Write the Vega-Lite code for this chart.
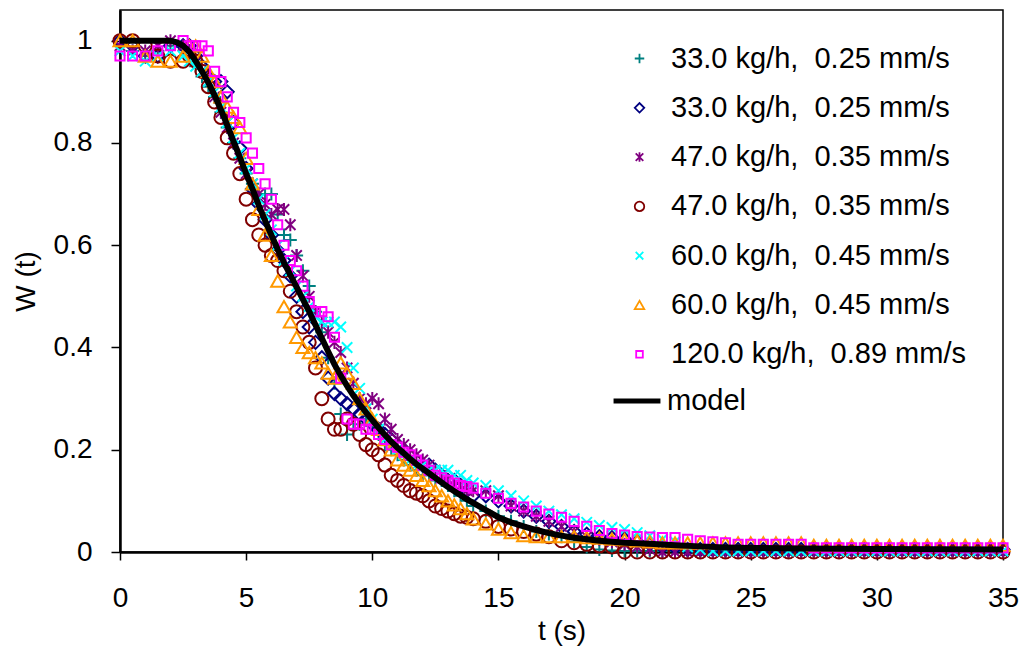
{
"$schema": "https://vega.github.io/schema/vega-lite/v6.json",
"width": 883,
"height": 542,
"autosize": {"type": "none"},
"padding": {"left": 120, "top": 10, "right": 16, "bottom": 98},
"background": "white",
"config": {
  "font": "Liberation Sans",
  "view": {"stroke": "black", "strokeWidth": 1.5},
  "axis": {"grid": false, "domainColor": "black", "domainWidth": 2.5, "tickColor": "black", "tickWidth": 1.5, "labelColor": "black", "titleColor": "black", "labelFontSize": 28, "titleFontSize": 28, "titleFontWeight": "normal", "labelFont": "Liberation Sans", "titleFont": "Liberation Sans", "labelFlush": false, "labelOverlap": false}
},
"data": {"values": [
{"s":"a","t":0,"w":0.99},{"s":"a","t":0.5,"w":0.98},{"s":"a","t":1,"w":0.97},{"s":"a","t":1.5,"w":0.98},{"s":"a","t":2,"w":0.99},{"s":"a","t":2.5,"w":0.99},
{"s":"a","t":2.75,"w":0.97},{"s":"a","t":3,"w":0.95},{"s":"a","t":3.25,"w":0.93},{"s":"a","t":3.5,"w":0.91},{"s":"a","t":3.75,"w":0.89},{"s":"a","t":4,"w":0.86},{"s":"a","t":4.25,"w":0.83},{"s":"a","t":4.5,"w":0.8},{"s":"a","t":4.75,"w":0.77},{"s":"a","t":5,"w":0.74},{"s":"a","t":5.25,"w":0.72},{"s":"a","t":5.5,"w":0.7},{"s":"a","t":5.75,"w":0.7},{"s":"a","t":6,"w":0.7},{"s":"a","t":6.25,"w":0.66},{"s":"a","t":6.5,"w":0.62},{"s":"a","t":6.75,"w":0.61},{"s":"a","t":7,"w":0.58},{"s":"a","t":7.25,"w":0.55},{"s":"a","t":7.5,"w":0.52},{"s":"a","t":7.75,"w":0.47},{"s":"a","t":8,"w":0.43},{"s":"a","t":8.25,"w":0.38},{"s":"a","t":8.5,"w":0.33},{"s":"a","t":8.75,"w":0.27},{"s":"a","t":9,"w":0.23},{"s":"a","t":9.25,"w":0.24},{"s":"a","t":9.5,"w":0.25},{"s":"a","t":9.75,"w":0.26},{"s":"a","t":10,"w":0.25},{"s":"a","t":10.25,"w":0.23},{"s":"a","t":10.5,"w":0.21},{"s":"a","t":10.75,"w":0.2},{"s":"a","t":11,"w":0.19},{"s":"a","t":11.25,"w":0.18},{"s":"a","t":11.5,"w":0.17},{"s":"a","t":11.75,"w":0.16},{"s":"a","t":12,"w":0.15},{"s":"a","t":12.25,"w":0.15},{"s":"a","t":12.5,"w":0.14},{"s":"a","t":12.75,"w":0.14},{"s":"a","t":13,"w":0.13},{"s":"a","t":13.25,"w":0.12},{"s":"a","t":13.5,"w":0.11},{"s":"a","t":13.75,"w":0.1},{"s":"a","t":14,"w":0.09},
{"s":"a","t":14.5,"w":0.08},{"s":"a","t":15,"w":0.07},{"s":"a","t":15.5,"w":0.06},{"s":"a","t":16,"w":0.05},{"s":"a","t":16.5,"w":0.04},{"s":"a","t":17,"w":0.035},{"s":"a","t":17.5,"w":0.03},{"s":"a","t":18,"w":0.02},{"s":"a","t":18.5,"w":0.01},{"s":"a","t":19,"w":0.005},{"s":"a","t":19.5,"w":0.003},{"s":"a","t":20,"w":0.002},{"s":"a","t":20.5,"w":0.002},{"s":"a","t":21,"w":0.002},{"s":"a","t":21.5,"w":0.002},{"s":"a","t":22,"w":0.002},{"s":"a","t":22.5,"w":0.002},{"s":"a","t":23,"w":0.002},{"s":"a","t":23.5,"w":0.002},{"s":"a","t":24,"w":0.002},{"s":"a","t":24.5,"w":0.002},{"s":"a","t":25,"w":0.002},{"s":"a","t":25.5,"w":0.002},{"s":"a","t":26,"w":0.002},{"s":"a","t":26.5,"w":0.002},{"s":"a","t":27,"w":0.002},{"s":"a","t":27.5,"w":0.002},{"s":"a","t":28,"w":0.002},{"s":"a","t":28.5,"w":0.002},{"s":"a","t":29,"w":0.002},{"s":"a","t":29.5,"w":0.002},{"s":"a","t":30,"w":0.002},{"s":"a","t":30.5,"w":0.002},{"s":"a","t":31,"w":0.002},{"s":"a","t":31.5,"w":0.002},{"s":"a","t":32,"w":0.002},{"s":"a","t":32.5,"w":0.002},{"s":"a","t":33,"w":0.002},{"s":"a","t":33.5,"w":0.002},{"s":"a","t":34,"w":0.002},{"s":"a","t":34.5,"w":0.002},{"s":"a","t":35,"w":0.002},

{"s":"b","t":0,"w":1.0},{"s":"b","t":0.5,"w":0.99},{"s":"b","t":1,"w":0.97},{"s":"b","t":1.5,"w":0.97},{"s":"b","t":2,"w":0.99},{"s":"b","t":2.5,"w":0.99},
{"s":"b","t":2.75,"w":0.99},{"s":"b","t":3,"w":0.97},{"s":"b","t":3.25,"w":0.95},{"s":"b","t":3.5,"w":0.93},{"s":"b","t":3.75,"w":0.92},{"s":"b","t":4,"w":0.92},{"s":"b","t":4.25,"w":0.9},{"s":"b","t":4.5,"w":0.84},{"s":"b","t":4.75,"w":0.79},{"s":"b","t":5,"w":0.75},{"s":"b","t":5.25,"w":0.71},{"s":"b","t":5.5,"w":0.68},{"s":"b","t":5.75,"w":0.65},{"s":"b","t":6,"w":0.62},{"s":"b","t":6.25,"w":0.59},{"s":"b","t":6.5,"w":0.57},{"s":"b","t":6.75,"w":0.54},{"s":"b","t":7,"w":0.5},{"s":"b","t":7.25,"w":0.47},{"s":"b","t":7.5,"w":0.44},{"s":"b","t":7.75,"w":0.41},{"s":"b","t":8,"w":0.38},{"s":"b","t":8.25,"w":0.34},{"s":"b","t":8.5,"w":0.31},{"s":"b","t":8.75,"w":0.3},{"s":"b","t":9,"w":0.29},{"s":"b","t":9.25,"w":0.28},{"s":"b","t":9.5,"w":0.27},{"s":"b","t":9.75,"w":0.26},{"s":"b","t":10,"w":0.25},{"s":"b","t":10.25,"w":0.24},{"s":"b","t":10.5,"w":0.23},{"s":"b","t":10.75,"w":0.22},{"s":"b","t":11,"w":0.21},{"s":"b","t":11.25,"w":0.2},{"s":"b","t":11.5,"w":0.19},{"s":"b","t":11.75,"w":0.18},{"s":"b","t":12,"w":0.17},{"s":"b","t":12.25,"w":0.17},{"s":"b","t":12.5,"w":0.16},{"s":"b","t":12.75,"w":0.15},{"s":"b","t":13,"w":0.14},{"s":"b","t":13.25,"w":0.14},{"s":"b","t":13.5,"w":0.13},{"s":"b","t":13.75,"w":0.12},{"s":"b","t":14,"w":0.11},
{"s":"b","t":14.5,"w":0.11},{"s":"b","t":15,"w":0.1},{"s":"b","t":15.5,"w":0.09},{"s":"b","t":16,"w":0.08},{"s":"b","t":16.5,"w":0.07},{"s":"b","t":17,"w":0.06},{"s":"b","t":17.5,"w":0.05},{"s":"b","t":18,"w":0.04},{"s":"b","t":18.5,"w":0.035},{"s":"b","t":19,"w":0.03},{"s":"b","t":19.5,"w":0.028},{"s":"b","t":20,"w":0.025},{"s":"b","t":20.5,"w":0.02},{"s":"b","t":21,"w":0.015},{"s":"b","t":21.5,"w":0.01},{"s":"b","t":22,"w":0.008},{"s":"b","t":22.5,"w":0.005},{"s":"b","t":23,"w":0.005},{"s":"b","t":23.5,"w":0.005},{"s":"b","t":24,"w":0.005},{"s":"b","t":24.5,"w":0.005},{"s":"b","t":25,"w":0.005},{"s":"b","t":25.5,"w":0.005},{"s":"b","t":26,"w":0.005},{"s":"b","t":26.5,"w":0.005},{"s":"b","t":27,"w":0.005},{"s":"b","t":27.5,"w":0.005},{"s":"b","t":28,"w":0.005},{"s":"b","t":28.5,"w":0.005},{"s":"b","t":29,"w":0.005},{"s":"b","t":29.5,"w":0.005},{"s":"b","t":30,"w":0.005},{"s":"b","t":30.5,"w":0.005},{"s":"b","t":31,"w":0.005},{"s":"b","t":31.5,"w":0.005},{"s":"b","t":32,"w":0.005},{"s":"b","t":32.5,"w":0.005},{"s":"b","t":33,"w":0.005},{"s":"b","t":33.5,"w":0.005},{"s":"b","t":34,"w":0.005},{"s":"b","t":34.5,"w":0.005},{"s":"b","t":35,"w":0.005},

{"s":"c","t":0,"w":0.99},{"s":"c","t":0.5,"w":0.98},{"s":"c","t":1,"w":0.98},{"s":"c","t":1.5,"w":0.99},{"s":"c","t":2,"w":1.0},{"s":"c","t":2.5,"w":0.99},
{"s":"c","t":2.75,"w":0.98},{"s":"c","t":3,"w":0.96},{"s":"c","t":3.25,"w":0.94},{"s":"c","t":3.5,"w":0.92},{"s":"c","t":3.75,"w":0.89},{"s":"c","t":4,"w":0.86},{"s":"c","t":4.25,"w":0.83},{"s":"c","t":4.5,"w":0.8},{"s":"c","t":4.75,"w":0.77},{"s":"c","t":5,"w":0.74},{"s":"c","t":5.25,"w":0.72},{"s":"c","t":5.5,"w":0.7},{"s":"c","t":5.75,"w":0.68},{"s":"c","t":6,"w":0.66},{"s":"c","t":6.25,"w":0.67},{"s":"c","t":6.5,"w":0.67},{"s":"c","t":6.75,"w":0.64},{"s":"c","t":7,"w":0.58},{"s":"c","t":7.25,"w":0.54},{"s":"c","t":7.5,"w":0.5},{"s":"c","t":7.75,"w":0.47},{"s":"c","t":8,"w":0.45},{"s":"c","t":8.25,"w":0.43},{"s":"c","t":8.5,"w":0.41},{"s":"c","t":8.75,"w":0.39},{"s":"c","t":9,"w":0.36},{"s":"c","t":9.25,"w":0.33},{"s":"c","t":9.5,"w":0.3},{"s":"c","t":9.75,"w":0.29},{"s":"c","t":10,"w":0.3},{"s":"c","t":10.25,"w":0.29},{"s":"c","t":10.5,"w":0.26},{"s":"c","t":10.75,"w":0.24},{"s":"c","t":11,"w":0.22},{"s":"c","t":11.25,"w":0.21},{"s":"c","t":11.5,"w":0.2},{"s":"c","t":11.75,"w":0.19},{"s":"c","t":12,"w":0.18},{"s":"c","t":12.25,"w":0.17},{"s":"c","t":12.5,"w":0.16},{"s":"c","t":12.75,"w":0.15},{"s":"c","t":13,"w":0.14},{"s":"c","t":13.25,"w":0.13},{"s":"c","t":13.5,"w":0.13},{"s":"c","t":13.75,"w":0.12},{"s":"c","t":14,"w":0.12},
{"s":"c","t":14.5,"w":0.12},{"s":"c","t":15,"w":0.11},{"s":"c","t":15.5,"w":0.09},{"s":"c","t":16,"w":0.08},{"s":"c","t":16.5,"w":0.07},{"s":"c","t":17,"w":0.06},{"s":"c","t":17.5,"w":0.05},{"s":"c","t":18,"w":0.04},{"s":"c","t":18.5,"w":0.03},{"s":"c","t":19,"w":0.025},{"s":"c","t":19.5,"w":0.02},{"s":"c","t":20,"w":0.015},{"s":"c","t":20.5,"w":0.01},{"s":"c","t":21,"w":0.005},{"s":"c","t":21.5,"w":0.0},{"s":"c","t":22,"w":0.0},{"s":"c","t":22.5,"w":0.0},{"s":"c","t":23,"w":0.0},{"s":"c","t":23.5,"w":0.0},{"s":"c","t":24,"w":0.0},{"s":"c","t":24.5,"w":0.0},{"s":"c","t":25,"w":0.0},{"s":"c","t":25.5,"w":0.0},{"s":"c","t":26,"w":0.0},{"s":"c","t":26.5,"w":0.0},{"s":"c","t":27,"w":0.0},{"s":"c","t":27.5,"w":0.0},{"s":"c","t":28,"w":0.0},{"s":"c","t":28.5,"w":0.0},{"s":"c","t":29,"w":0.0},{"s":"c","t":29.5,"w":0.0},{"s":"c","t":30,"w":0.0},{"s":"c","t":30.5,"w":0.0},{"s":"c","t":31,"w":0.0},{"s":"c","t":31.5,"w":0.0},{"s":"c","t":32,"w":0.0},{"s":"c","t":32.5,"w":0.0},{"s":"c","t":33,"w":0.0},{"s":"c","t":33.5,"w":0.0},{"s":"c","t":34,"w":0.0},{"s":"c","t":34.5,"w":0.0},{"s":"c","t":35,"w":0.0},

{"s":"d","t":0,"w":1.0},{"s":"d","t":0.5,"w":1.0},{"s":"d","t":1,"w":0.99},{"s":"d","t":1.5,"w":0.97},{"s":"d","t":2,"w":0.96},{"s":"d","t":2.5,"w":0.96},
{"s":"d","t":2.75,"w":0.97},{"s":"d","t":3,"w":0.96},{"s":"d","t":3.25,"w":0.94},{"s":"d","t":3.5,"w":0.91},{"s":"d","t":3.75,"w":0.88},{"s":"d","t":4,"w":0.85},{"s":"d","t":4.25,"w":0.81},{"s":"d","t":4.5,"w":0.78},{"s":"d","t":4.75,"w":0.74},{"s":"d","t":5,"w":0.69},{"s":"d","t":5.25,"w":0.65},{"s":"d","t":5.5,"w":0.62},{"s":"d","t":5.75,"w":0.6},{"s":"d","t":6,"w":0.58},{"s":"d","t":6.25,"w":0.57},{"s":"d","t":6.5,"w":0.55},{"s":"d","t":6.75,"w":0.51},{"s":"d","t":7,"w":0.47},{"s":"d","t":7.25,"w":0.44},{"s":"d","t":7.5,"w":0.41},{"s":"d","t":7.75,"w":0.36},{"s":"d","t":8,"w":0.3},{"s":"d","t":8.25,"w":0.26},{"s":"d","t":8.5,"w":0.24},{"s":"d","t":8.75,"w":0.24},{"s":"d","t":9,"w":0.26},{"s":"d","t":9.25,"w":0.25},{"s":"d","t":9.5,"w":0.23},{"s":"d","t":9.75,"w":0.21},{"s":"d","t":10,"w":0.2},{"s":"d","t":10.25,"w":0.19},{"s":"d","t":10.5,"w":0.17},{"s":"d","t":10.75,"w":0.15},{"s":"d","t":11,"w":0.14},{"s":"d","t":11.25,"w":0.13},{"s":"d","t":11.5,"w":0.12},{"s":"d","t":11.75,"w":0.115},{"s":"d","t":12,"w":0.11},{"s":"d","t":12.25,"w":0.1},{"s":"d","t":12.5,"w":0.09},{"s":"d","t":12.75,"w":0.085},{"s":"d","t":13,"w":0.08},{"s":"d","t":13.25,"w":0.075},{"s":"d","t":13.5,"w":0.07},{"s":"d","t":13.75,"w":0.068},{"s":"d","t":14,"w":0.065},
{"s":"d","t":14.5,"w":0.06},{"s":"d","t":15,"w":0.05},{"s":"d","t":15.5,"w":0.045},{"s":"d","t":16,"w":0.04},{"s":"d","t":16.5,"w":0.035},{"s":"d","t":17,"w":0.03},{"s":"d","t":17.5,"w":0.022},{"s":"d","t":18,"w":0.018},{"s":"d","t":18.5,"w":0.015},{"s":"d","t":19,"w":0.012},{"s":"d","t":19.5,"w":0.01},{"s":"d","t":20,"w":0.0},{"s":"d","t":20.5,"w":0.0},{"s":"d","t":21,"w":0.0},{"s":"d","t":21.5,"w":0.0},{"s":"d","t":22,"w":0.0},{"s":"d","t":22.5,"w":0.0},{"s":"d","t":23,"w":0.0},{"s":"d","t":23.5,"w":0.0},{"s":"d","t":24,"w":0.0},{"s":"d","t":24.5,"w":0.0},{"s":"d","t":25,"w":0.0},{"s":"d","t":25.5,"w":0.0},{"s":"d","t":26,"w":0.0},{"s":"d","t":26.5,"w":0.0},{"s":"d","t":27,"w":0.0},{"s":"d","t":27.5,"w":0.0},{"s":"d","t":28,"w":0.0},{"s":"d","t":28.5,"w":0.0},{"s":"d","t":29,"w":0.0},{"s":"d","t":29.5,"w":0.0},{"s":"d","t":30,"w":0.0},{"s":"d","t":30.5,"w":0.0},{"s":"d","t":31,"w":0.0},{"s":"d","t":31.5,"w":0.0},{"s":"d","t":32,"w":0.0},{"s":"d","t":32.5,"w":0.0},{"s":"d","t":33,"w":0.0},{"s":"d","t":33.5,"w":0.0},{"s":"d","t":34,"w":0.0},{"s":"d","t":34.5,"w":0.0},{"s":"d","t":35,"w":0.0},

{"s":"e","t":0,"w":0.98},{"s":"e","t":0.5,"w":0.97},{"s":"e","t":1,"w":0.96},{"s":"e","t":1.5,"w":0.97},{"s":"e","t":2,"w":0.98},{"s":"e","t":2.5,"w":0.97},
{"s":"e","t":2.75,"w":0.96},{"s":"e","t":3,"w":0.95},{"s":"e","t":3.25,"w":0.94},{"s":"e","t":3.5,"w":0.92},{"s":"e","t":3.75,"w":0.9},{"s":"e","t":4,"w":0.87},{"s":"e","t":4.25,"w":0.84},{"s":"e","t":4.5,"w":0.81},{"s":"e","t":4.75,"w":0.78},{"s":"e","t":5,"w":0.75},{"s":"e","t":5.25,"w":0.72},{"s":"e","t":5.5,"w":0.69},{"s":"e","t":5.75,"w":0.66},{"s":"e","t":6,"w":0.63},{"s":"e","t":6.25,"w":0.6},{"s":"e","t":6.5,"w":0.57},{"s":"e","t":6.75,"w":0.55},{"s":"e","t":7,"w":0.52},{"s":"e","t":7.25,"w":0.5},{"s":"e","t":7.5,"w":0.48},{"s":"e","t":7.75,"w":0.46},{"s":"e","t":8,"w":0.45},{"s":"e","t":8.25,"w":0.45},{"s":"e","t":8.5,"w":0.45},{"s":"e","t":8.75,"w":0.44},{"s":"e","t":9,"w":0.4},{"s":"e","t":9.25,"w":0.36},{"s":"e","t":9.5,"w":0.32},{"s":"e","t":9.75,"w":0.28},{"s":"e","t":10,"w":0.26},{"s":"e","t":10.25,"w":0.24},{"s":"e","t":10.5,"w":0.22},{"s":"e","t":10.75,"w":0.21},{"s":"e","t":11,"w":0.2},{"s":"e","t":11.25,"w":0.19},{"s":"e","t":11.5,"w":0.18},{"s":"e","t":11.75,"w":0.17},{"s":"e","t":12,"w":0.17},{"s":"e","t":12.25,"w":0.16},{"s":"e","t":12.5,"w":0.16},{"s":"e","t":12.75,"w":0.16},{"s":"e","t":13,"w":0.16},{"s":"e","t":13.25,"w":0.15},{"s":"e","t":13.5,"w":0.15},{"s":"e","t":13.75,"w":0.14},{"s":"e","t":14,"w":0.135},
{"s":"e","t":14.5,"w":0.13},{"s":"e","t":15,"w":0.12},{"s":"e","t":15.5,"w":0.11},{"s":"e","t":16,"w":0.1},{"s":"e","t":16.5,"w":0.09},{"s":"e","t":17,"w":0.08},{"s":"e","t":17.5,"w":0.073},{"s":"e","t":18,"w":0.065},{"s":"e","t":18.5,"w":0.058},{"s":"e","t":19,"w":0.052},{"s":"e","t":19.5,"w":0.048},{"s":"e","t":20,"w":0.044},{"s":"e","t":20.5,"w":0.038},{"s":"e","t":21,"w":0.032},{"s":"e","t":21.5,"w":0.025},{"s":"e","t":22,"w":0.02},{"s":"e","t":22.5,"w":0.01},{"s":"e","t":23,"w":0.005},{"s":"e","t":23.5,"w":0.002},{"s":"e","t":24,"w":0.002},{"s":"e","t":24.5,"w":0.002},{"s":"e","t":25,"w":0.002},{"s":"e","t":25.5,"w":0.002},{"s":"e","t":26,"w":0.002},{"s":"e","t":26.5,"w":0.002},{"s":"e","t":27,"w":0.002},{"s":"e","t":27.5,"w":0.002},{"s":"e","t":28,"w":0.002},{"s":"e","t":28.5,"w":0.002},{"s":"e","t":29,"w":0.002},{"s":"e","t":29.5,"w":0.002},{"s":"e","t":30,"w":0.002},{"s":"e","t":30.5,"w":0.002},{"s":"e","t":31,"w":0.002},{"s":"e","t":31.5,"w":0.002},{"s":"e","t":32,"w":0.002},{"s":"e","t":32.5,"w":0.002},{"s":"e","t":33,"w":0.002},{"s":"e","t":33.5,"w":0.002},{"s":"e","t":34,"w":0.002},{"s":"e","t":34.5,"w":0.002},{"s":"e","t":35,"w":0.002},

{"s":"f","t":0,"w":1.0},{"s":"f","t":0.5,"w":1.0},{"s":"f","t":1,"w":0.97},{"s":"f","t":1.5,"w":0.96},{"s":"f","t":2,"w":0.96},{"s":"f","t":2.5,"w":0.97},
{"s":"f","t":2.75,"w":0.99},{"s":"f","t":3,"w":0.99},{"s":"f","t":3.25,"w":0.97},{"s":"f","t":3.5,"w":0.94},{"s":"f","t":3.75,"w":0.92},{"s":"f","t":4,"w":0.89},{"s":"f","t":4.25,"w":0.87},{"s":"f","t":4.5,"w":0.85},{"s":"f","t":4.75,"w":0.83},{"s":"f","t":5,"w":0.77},{"s":"f","t":5.25,"w":0.72},{"s":"f","t":5.5,"w":0.67},{"s":"f","t":5.75,"w":0.62},{"s":"f","t":6,"w":0.58},{"s":"f","t":6.25,"w":0.53},{"s":"f","t":6.5,"w":0.48},{"s":"f","t":6.75,"w":0.45},{"s":"f","t":7,"w":0.42},{"s":"f","t":7.25,"w":0.4},{"s":"f","t":7.5,"w":0.39},{"s":"f","t":7.75,"w":0.38},{"s":"f","t":8,"w":0.37},{"s":"f","t":8.25,"w":0.35},{"s":"f","t":8.5,"w":0.34},{"s":"f","t":8.75,"w":0.37},{"s":"f","t":9,"w":0.35},{"s":"f","t":9.25,"w":0.33},{"s":"f","t":9.5,"w":0.3},{"s":"f","t":9.75,"w":0.28},{"s":"f","t":10,"w":0.26},{"s":"f","t":10.25,"w":0.24},{"s":"f","t":10.5,"w":0.22},{"s":"f","t":10.75,"w":0.2},{"s":"f","t":11,"w":0.18},{"s":"f","t":11.25,"w":0.17},{"s":"f","t":11.5,"w":0.16},{"s":"f","t":11.75,"w":0.15},{"s":"f","t":12,"w":0.14},{"s":"f","t":12.25,"w":0.13},{"s":"f","t":12.5,"w":0.12},{"s":"f","t":12.75,"w":0.11},{"s":"f","t":13,"w":0.1},{"s":"f","t":13.25,"w":0.092},{"s":"f","t":13.5,"w":0.085},{"s":"f","t":13.75,"w":0.075},{"s":"f","t":14,"w":0.065},
{"s":"f","t":14.5,"w":0.055},{"s":"f","t":15,"w":0.045},{"s":"f","t":15.5,"w":0.038},{"s":"f","t":16,"w":0.032},{"s":"f","t":16.5,"w":0.03},{"s":"f","t":17,"w":0.03},{"s":"f","t":17.5,"w":0.03},{"s":"f","t":18,"w":0.03},{"s":"f","t":18.5,"w":0.028},{"s":"f","t":19,"w":0.027},{"s":"f","t":19.5,"w":0.025},{"s":"f","t":20,"w":0.024},{"s":"f","t":20.5,"w":0.022},{"s":"f","t":21,"w":0.02},{"s":"f","t":21.5,"w":0.018},{"s":"f","t":22,"w":0.018},{"s":"f","t":22.5,"w":0.018},{"s":"f","t":23,"w":0.018},{"s":"f","t":23.5,"w":0.018},{"s":"f","t":24,"w":0.018},{"s":"f","t":24.5,"w":0.018},{"s":"f","t":25,"w":0.018},{"s":"f","t":25.5,"w":0.018},{"s":"f","t":26,"w":0.018},{"s":"f","t":26.5,"w":0.018},{"s":"f","t":27,"w":0.018},{"s":"f","t":27.5,"w":0.013},{"s":"f","t":28,"w":0.013},{"s":"f","t":28.5,"w":0.013},{"s":"f","t":29,"w":0.013},{"s":"f","t":29.5,"w":0.013},{"s":"f","t":30,"w":0.013},{"s":"f","t":30.5,"w":0.013},{"s":"f","t":31,"w":0.013},{"s":"f","t":31.5,"w":0.013},{"s":"f","t":32,"w":0.013},{"s":"f","t":32.5,"w":0.013},{"s":"f","t":33,"w":0.013},{"s":"f","t":33.5,"w":0.013},{"s":"f","t":34,"w":0.013},{"s":"f","t":34.5,"w":0.013},{"s":"f","t":35,"w":0.013},

{"s":"g","t":0,"w":0.97},{"s":"g","t":0.5,"w":0.97},{"s":"g","t":1,"w":0.97},{"s":"g","t":1.5,"w":0.98},{"s":"g","t":2,"w":0.99},{"s":"g","t":2.5,"w":1.0},
{"s":"g","t":2.75,"w":0.99},{"s":"g","t":3,"w":0.99},{"s":"g","t":3.25,"w":0.99},{"s":"g","t":3.5,"w":0.98},{"s":"g","t":3.75,"w":0.94},{"s":"g","t":4,"w":0.92},{"s":"g","t":4.25,"w":0.89},{"s":"g","t":4.5,"w":0.86},{"s":"g","t":4.75,"w":0.84},{"s":"g","t":5,"w":0.81},{"s":"g","t":5.25,"w":0.78},{"s":"g","t":5.5,"w":0.75},{"s":"g","t":5.75,"w":0.72},{"s":"g","t":6,"w":0.69},{"s":"g","t":6.25,"w":0.64},{"s":"g","t":6.5,"w":0.6},{"s":"g","t":6.75,"w":0.57},{"s":"g","t":7,"w":0.55},{"s":"g","t":7.25,"w":0.52},{"s":"g","t":7.5,"w":0.49},{"s":"g","t":7.75,"w":0.47},{"s":"g","t":8,"w":0.47},{"s":"g","t":8.25,"w":0.46},{"s":"g","t":8.5,"w":0.42},{"s":"g","t":8.75,"w":0.34},{"s":"g","t":9,"w":0.26},{"s":"g","t":9.25,"w":0.25},{"s":"g","t":9.5,"w":0.25},{"s":"g","t":9.75,"w":0.24},{"s":"g","t":10,"w":0.24},{"s":"g","t":10.25,"w":0.23},{"s":"g","t":10.5,"w":0.22},{"s":"g","t":10.75,"w":0.21},{"s":"g","t":11,"w":0.205},{"s":"g","t":11.25,"w":0.195},{"s":"g","t":11.5,"w":0.19},{"s":"g","t":11.75,"w":0.18},{"s":"g","t":12,"w":0.17},{"s":"g","t":12.25,"w":0.16},{"s":"g","t":12.5,"w":0.15},{"s":"g","t":12.75,"w":0.145},{"s":"g","t":13,"w":0.14},{"s":"g","t":13.25,"w":0.135},{"s":"g","t":13.5,"w":0.13},{"s":"g","t":13.75,"w":0.128},{"s":"g","t":14,"w":0.125},
{"s":"g","t":14.5,"w":0.115},{"s":"g","t":15,"w":0.105},{"s":"g","t":15.5,"w":0.095},{"s":"g","t":16,"w":0.088},{"s":"g","t":16.5,"w":0.08},{"s":"g","t":17,"w":0.074},{"s":"g","t":17.5,"w":0.068},{"s":"g","t":18,"w":0.06},{"s":"g","t":18.5,"w":0.05},{"s":"g","t":19,"w":0.042},{"s":"g","t":19.5,"w":0.036},{"s":"g","t":20,"w":0.033},{"s":"g","t":20.5,"w":0.03},{"s":"g","t":21,"w":0.029},{"s":"g","t":21.5,"w":0.028},{"s":"g","t":22,"w":0.028},{"s":"g","t":22.5,"w":0.025},{"s":"g","t":23,"w":0.022},{"s":"g","t":23.5,"w":0.02},{"s":"g","t":24,"w":0.018},{"s":"g","t":24.5,"w":0.015},{"s":"g","t":25,"w":0.015},{"s":"g","t":25.5,"w":0.015},{"s":"g","t":26,"w":0.015},{"s":"g","t":26.5,"w":0.015},{"s":"g","t":27,"w":0.015},{"s":"g","t":27.5,"w":0.008},{"s":"g","t":28,"w":0.008},{"s":"g","t":28.5,"w":0.008},{"s":"g","t":29,"w":0.008},{"s":"g","t":29.5,"w":0.008},{"s":"g","t":30,"w":0.008},{"s":"g","t":30.5,"w":0.008},{"s":"g","t":31,"w":0.008},{"s":"g","t":31.5,"w":0.008},{"s":"g","t":32,"w":0.008},{"s":"g","t":32.5,"w":0.008},{"s":"g","t":33,"w":0.008},{"s":"g","t":33.5,"w":0.008},{"s":"g","t":34,"w":0.008},{"s":"g","t":34.5,"w":0.008},{"s":"g","t":35,"w":0.008},

{"s":"m","t":0,"w":1.0},{"s":"m","t":1,"w":1.0},{"s":"m","t":2,"w":1.0},{"s":"m","t":2.25,"w":0.997},{"s":"m","t":2.5,"w":0.99},{"s":"m","t":2.75,"w":0.978},{"s":"m","t":3,"w":0.96},{"s":"m","t":3.25,"w":0.94},{"s":"m","t":3.5,"w":0.918},{"s":"m","t":3.75,"w":0.893},{"s":"m","t":4,"w":0.865},{"s":"m","t":4.25,"w":0.835},{"s":"m","t":4.5,"w":0.803},{"s":"m","t":4.75,"w":0.772},{"s":"m","t":5,"w":0.74},{"s":"m","t":5.25,"w":0.71},{"s":"m","t":5.5,"w":0.678},{"s":"m","t":5.75,"w":0.648},{"s":"m","t":6,"w":0.62},{"s":"m","t":6.25,"w":0.592},{"s":"m","t":6.5,"w":0.566},{"s":"m","t":6.75,"w":0.542},{"s":"m","t":7,"w":0.518},{"s":"m","t":7.25,"w":0.494},{"s":"m","t":7.5,"w":0.47},{"s":"m","t":7.75,"w":0.444},{"s":"m","t":8,"w":0.418},{"s":"m","t":8.25,"w":0.392},{"s":"m","t":8.5,"w":0.367},{"s":"m","t":8.75,"w":0.345},{"s":"m","t":9,"w":0.325},{"s":"m","t":9.25,"w":0.306},{"s":"m","t":9.5,"w":0.289},{"s":"m","t":9.75,"w":0.273},{"s":"m","t":10,"w":0.258},{"s":"m","t":10.25,"w":0.243},{"s":"m","t":10.5,"w":0.229},{"s":"m","t":10.75,"w":0.216},{"s":"m","t":11,"w":0.204},{"s":"m","t":11.25,"w":0.193},{"s":"m","t":11.5,"w":0.182},{"s":"m","t":11.75,"w":0.172},{"s":"m","t":12,"w":0.163},{"s":"m","t":12.25,"w":0.154},{"s":"m","t":12.5,"w":0.145},{"s":"m","t":12.75,"w":0.136},{"s":"m","t":13,"w":0.127},{"s":"m","t":13.25,"w":0.119},{"s":"m","t":13.5,"w":0.111},{"s":"m","t":13.75,"w":0.103},{"s":"m","t":14,"w":0.096},{"s":"m","t":14.5,"w":0.082},{"s":"m","t":15,"w":0.068},{"s":"m","t":15.5,"w":0.058},{"s":"m","t":16,"w":0.05},{"s":"m","t":16.5,"w":0.043},{"s":"m","t":17,"w":0.037},{"s":"m","t":17.5,"w":0.032},{"s":"m","t":18,"w":0.028},{"s":"m","t":18.5,"w":0.025},{"s":"m","t":19,"w":0.022},{"s":"m","t":19.5,"w":0.02},{"s":"m","t":20,"w":0.018},{"s":"m","t":21,"w":0.016},{"s":"m","t":22,"w":0.013},{"s":"m","t":23,"w":0.011},{"s":"m","t":24,"w":0.009},{"s":"m","t":25,"w":0.008},{"s":"m","t":27,"w":0.007},{"s":"m","t":30,"w":0.006},{"s":"m","t":35,"w":0.005}
]},
"resolve": {"scale": {"color": "independent", "shape": "independent"}, "legend": {"color": "independent", "shape": "independent"}},
"layer": [
  {
    "transform": [{"filter": "datum.s != 'm'"}],
    "mark": {"type": "point", "filled": false, "opacity": 1, "size": 170, "strokeWidth": 2},
    "encoding": {
      "x": {"field": "t", "type": "quantitative", "scale": {"domain": [0, 35], "nice": false, "zero": false},
            "axis": {"title": "t (s)", "values": [0, 5, 10, 15, 20, 25, 30, 35], "tickSize": 8, "labelPadding": 24, "titlePadding": 5}},
      "y": {"field": "w", "type": "quantitative", "scale": {"domain": [0, 1.06], "nice": false},
            "axis": {"title": "W (t)", "values": [0, 0.2, 0.4, 0.6, 0.8, 1], "format": "~g", "tickSize": 9, "labelPadding": 19, "titlePadding": 13}},
      "color": {"field": "s", "type": "nominal",
        "scale": {"domain": ["a", "b", "c", "d", "e", "f", "g"], "range": ["#008080", "#000080", "#800080", "#800000", "#00FFFF", "#FF9900", "#FF00FF"]},
        "legend": {"orient": "none", "legendX": 505, "legendY": 34, "title": null, "padding": 0, "symbolSize": 90, "symbolStrokeWidth": 1.8,
          "labelFontSize": 29, "labelFont": "Liberation Sans", "labelColor": "black", "labelLimit": 500, "labelOffset": 17, "rowPadding": 19.3,
          "labelExpr": "datum.value=='a'||datum.value=='b' ? '33.0 kg/h,\u00a0 0.25 mm/s' : datum.value=='c'||datum.value=='d' ? '47.0 kg/h,\u00a0 0.35 mm/s' : datum.value=='e'||datum.value=='f' ? '60.0 kg/h,\u00a0 0.45 mm/s' : '120.0 kg/h,\u00a0 0.89 mm/s'"}},
      "shape": {"field": "s", "type": "nominal",
        "scale": {"domain": ["a", "b", "c", "d", "e", "f", "g"], "range": ["M-1,0H1M0,-1V1", "diamond", "M-0.8,-0.8L0.8,0.8M-0.8,0.8L0.8,-0.8M0,-1V1", "circle", "M-0.8,-0.8L0.8,0.8M-0.8,0.8L0.8,-0.8", "triangle-up", "M-0.7,-0.7H0.7V0.7H-0.7Z"]},
        "legend": {"orient": "none", "legendX": 505, "legendY": 34, "title": null, "padding": 0, "symbolSize": 90, "symbolStrokeWidth": 1.8,
          "labelFontSize": 29, "labelFont": "Liberation Sans", "labelColor": "black", "labelLimit": 500, "labelOffset": 17, "rowPadding": 19.3,
          "labelExpr": "datum.value=='a'||datum.value=='b' ? '33.0 kg/h,\u00a0 0.25 mm/s' : datum.value=='c'||datum.value=='d' ? '47.0 kg/h,\u00a0 0.35 mm/s' : datum.value=='e'||datum.value=='f' ? '60.0 kg/h,\u00a0 0.45 mm/s' : '120.0 kg/h,\u00a0 0.89 mm/s'"}}
    }
  },
  {
    "transform": [{"filter": "datum.s == 'm'"}],
    "mark": {"type": "line", "strokeWidth": 6},
    "encoding": {
      "x": {"field": "t", "type": "quantitative"},
      "y": {"field": "w", "type": "quantitative"},
      "color": {"field": "s", "type": "nominal",
        "scale": {"domain": ["m"], "range": ["#000000"]},
        "legend": {"orient": "none", "legendX": 491, "legendY": 365, "title": null, "padding": 0, "symbolType": "stroke", "symbolSize": 2200, "symbolStrokeWidth": 5,
          "labelFontSize": 29, "labelFont": "Liberation Sans", "labelColor": "black", "labelOffset": 4, "labelExpr": "'model'"}}
    }
  }
]
}
